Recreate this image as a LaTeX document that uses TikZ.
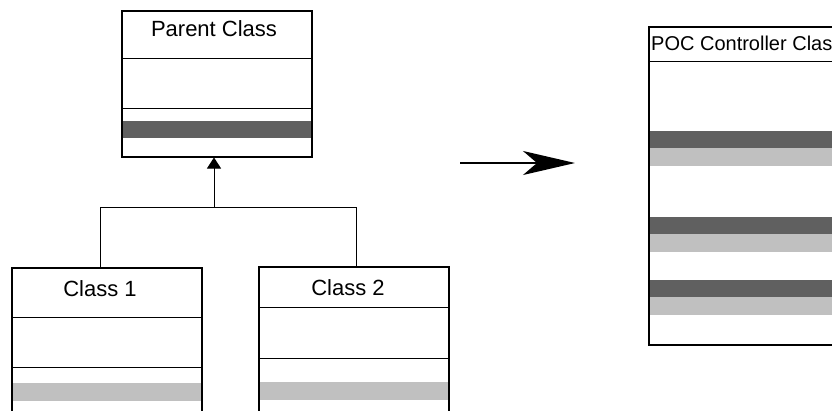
\documentclass[tikz,border=0pt]{standalone}
\usepackage{fontspec}
\setmainfont{Liberation Sans}
\usetikzlibrary{arrows.meta}
\definecolor{darkband}{HTML}{606060}
\definecolor{lightband}{HTML}{C0C0C0}
\tikzset{
  classbox/.style={draw=black, line width=1.5pt, anchor=north west, inner sep=0pt, fill=none},
  sepline/.style={line width=1pt},
  dband/.style={fill=darkband},
  lband/.style={fill=lightband},
  title/.style={font=\fontsize{22}{25}\selectfont, anchor=base, inner sep=0pt},
  conn/.style={line width=1pt},
}
\begin{document}
\begin{tikzpicture}[x=1pt,y=-1pt]
\useasboundingbox (0,0) rectangle (832,410);
\clip (0,0) rectangle (832,410);
\fill[white] (0,0) rectangle (832,410);
% ---- Parent class
\fill[dband] (121,121) rectangle (311,138);
\node[classbox, minimum width=190pt, minimum height=146pt] (parent) at (121,10) {};
\draw[sepline] (121,58) -- (311,58);
\draw[sepline] (121,108) -- (311,108);
\node[title] (ptitle) at (214,36) {Parent Class};
% ---- Class 1
\fill[lband] (11,383) rectangle (201,401);
\node[classbox, minimum width=190pt, minimum height=170pt] (c1) at (11,267) {};
\draw[sepline] (11,317) -- (203,317);
\draw[sepline] (11,367) -- (201,367);
\node[title] (c1title) at (100,296) {Class 1};
% ---- Class 2
\fill[lband] (258,382) rectangle (448,400);
\node[classbox, minimum width=190pt, minimum height=170pt] (c2) at (258,266) {};
\draw[sepline] (258,307) -- (448,307);
\draw[sepline] (258,358) -- (448,358);
\node[title] (c2title) at (348,295) {Class 2};
% ---- connectors
\coordinate (j) at (214,207);
\coordinate (j1) at (100,207);
\coordinate (j2) at (356,207);
\draw[conn] (j1 |- c1.north) -- (j1) -- (j2) -- (j2 |- c2.north);
\draw[conn, -{Triangle[width=14pt,length=11pt]}] (j) -- (j |- parent.south);
% ---- big arrow
\coordinate (a1) at (460,163);
\coordinate (a2) at (575,163);
\draw[line width=2pt, -{Stealth[length=52pt,width=24pt,inset=14pt]}] (a1) -- (a2);
% ---- POC controller class
\fill[dband] (648,131) rectangle (840,148);
\fill[lband] (648,148) rectangle (840,166);
\fill[dband] (648,217) rectangle (840,234);
\fill[lband] (648,234) rectangle (840,252);
\fill[dband] (648,280) rectangle (840,297);
\fill[lband] (648,297) rectangle (840,315);
\node[classbox, minimum width=220pt, minimum height=318pt] (poc) at (648,26) {};
\draw[sepline] (648,61) -- (850,61);
\node[title, anchor=base west, font=\fontsize{20}{23}\selectfont] (poctitle) at (651,50) {POC Controller Class};
\end{tikzpicture}
\end{document}
